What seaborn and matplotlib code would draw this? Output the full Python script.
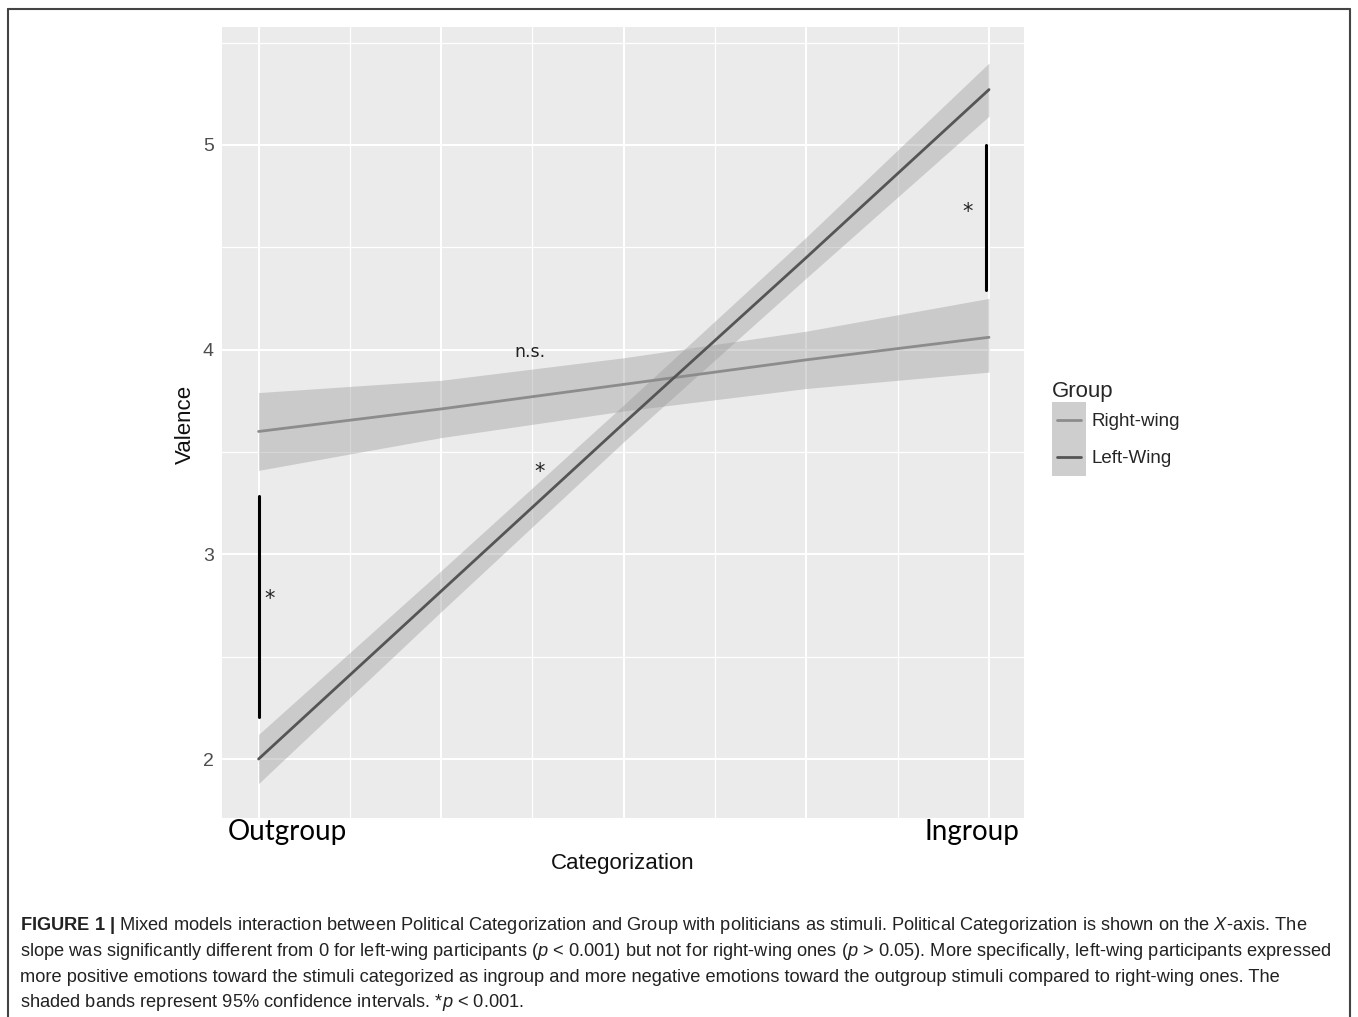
import numpy as np
import pandas as pd
from matplotlib import pyplot as plt
from matplotlib.lines import Line2D
from matplotlib.patches import Rectangle
import seaborn as sb

# fitted values and 95% bands
categorization = [0.0, 0.25, 0.5, 0.75, 1.0]
left_fit = [2.00, 2.82, 3.64, 4.45, 5.27]
left_lo = [1.88, 2.72, 3.55, 4.35, 5.14]
left_hi = [2.12, 2.92, 3.73, 4.55, 5.40]
right_fit = [3.60, 3.71, 3.83, 3.95, 4.06]
right_lo = [3.41, 3.57, 3.70, 3.81, 3.89]
right_hi = [3.79, 3.85, 3.96, 4.09, 4.25]
groups = ['Right-wing', 'Left-Wing']

y_ticks = [2, 3, 4, 5]
x_labels = ['Outgroup', 'Ingroup']

caption = [
    r'$\mathbf{FIGURE\ 1\ |}$ Mixed models interaction between Political Categorization and Group with politicians as stimuli. Political Categorization is shown on the $\mathit{X}$-axis. The',
    r'slope was significantly different from 0 for left-wing participants ($\mathit{p}$ < 0.001) but not for right-wing ones ($\mathit{p}$ > 0.05). More specifically, left-wing participants expressed',
    'more positive emotions toward the stimuli categorized as ingroup and more negative emotions toward the outgroup stimuli compared to right-wing ones. The',
    r'shaded bands represent 95% confidence intervals. *$\mathit{p}$ < 0.001.',
]

sb.set_theme(style='darkgrid')
plt.rcParams.update({'font.family': ['Liberation Sans', 'DejaVu Sans'],
                     'mathtext.fontset': 'custom',
                     'mathtext.rm': 'Liberation Sans',
                     'mathtext.it': 'Liberation Sans:italic',
                     'mathtext.bf': 'Liberation Sans:bold',
                     'axes.facecolor': '#EBEBEB'})

colors = {'Right-wing': '#8C8C8C', 'Left-Wing': '#555555'}


class KeyHandler:
    # ggplot-like key: grey band square with the line through its middle
    def legend_artist(self, legend, orig_handle, fontsize, handlebox):
        x0, y0 = -handlebox.xdescent, -handlebox.ydescent
        w, h = handlebox.width, handlebox.height
        tr = handlebox.get_transform()
        rect = Rectangle((x0, y0), w, h, facecolor='#CECECE', edgecolor='none', transform=tr)
        ln = Line2D([x0 + 0.15 * w, x0 + 0.85 * w], [y0 + h / 2] * 2,
                    color=orig_handle.get_color(), lw=2.0, transform=tr)
        handlebox.add_artist(rect)
        handlebox.add_artist(ln)
        return ln


df = pd.DataFrame({
    'Categorization': categorization * 2,
    'Valence': right_fit + left_fit,
    'Group': [groups[0]] * 5 + [groups[1]] * 5,
})

fig = plt.figure(figsize=(13.58, 10.17), dpi=100)
ax = fig.add_axes([0.1635, 0.1957, 0.5906, 0.7778])

ax.fill_between(categorization, right_lo, right_hi, color='#999999', alpha=0.4, lw=0)
ax.fill_between(categorization, left_lo, left_hi, color='#999999', alpha=0.4, lw=0)
sb.lineplot(data=df, x='Categorization', y='Valence', hue='Group', palette=colors,
            linewidth=2.0, ax=ax, legend=False)

# significance markers
ax.plot([0.0, 0.0], [2.205, 3.285], color='black', lw=2.2)
ax.plot([0.996, 0.996], [4.29, 5.0], color='black', lw=2.2)
ax.text(0.015, 2.78, '*', fontsize=15, family='DejaVu Sans', ha='center', va='center', color='#222222')
ax.text(0.970, 4.67, '*', fontsize=15, family='DejaVu Sans', ha='center', va='center', color='#222222')
ax.text(0.385, 3.40, '*', fontsize=15, family='DejaVu Sans', ha='center', va='center', color='#222222')
ax.text(0.371, 3.99, 'n.s.', fontsize=12.5, family='DejaVu Sans', ha='center', va='center', color='#222222')

ax.set_xlim(-0.05, 1.048)
ax.set_ylim(1.712, 5.576)
ax.set_yticks(y_ticks)
ax.set_yticks([2.5, 3.5, 4.5, 5.5], minor=True)
ax.set_xticks([0, 0.25, 0.5, 0.75, 1.0])
ax.set_xticks([0.125, 0.375, 0.625, 0.875], minor=True)
ax.set_xticklabels([])
ax.grid(which='major', color='white', lw=1.5)
ax.grid(which='minor', color='white', lw=0.9)
ax.tick_params(axis='both', which='major', length=4, width=1, color='#444444',
               labelsize=14, labelcolor='#4D4D4D', pad=2)
ax.tick_params(axis='both', which='minor', length=0)
for s in ax.spines.values():
    s.set_visible(False)

ax.text(0.04, -0.018, x_labels[0], transform=ax.get_xaxis_transform(), family='Lato',
        fontsize=20, ha='center', va='center', color='black')
ax.text(0.977, -0.018, x_labels[1], transform=ax.get_xaxis_transform(), family='Lato',
        fontsize=20, ha='center', va='center', color='black')

ax.set_xlabel('Categorization', fontsize=16, color='#111111')
ax.set_ylabel('Valence', fontsize=16, color='#111111')
ax.xaxis.set_label_coords(0.5, -0.044)
ax.yaxis.set_label_coords(-0.032, 0.497)

handles = [Line2D([], [], color=colors[g]) for g in groups]
leg = fig.legend(handles, groups, title='Group', loc='center left',
                 bbox_to_anchor=(0.7747, 0.579), frameon=False, fontsize=13.5,
                 title_fontsize=16, handlelength=1.8, handleheight=2.66,
                 labelspacing=0, handletextpad=0.3, borderpad=0, borderaxespad=0,
                 alignment='left', handler_map={Line2D: KeyHandler()})

# frame around the figure panel
fig.add_artist(Line2D([8 / 1358, 8 / 1358], [0, 1 - 9 / 1017], color='#444444', lw=1.5))
fig.add_artist(Line2D([1350 / 1358, 1350 / 1358], [0, 1 - 9 / 1017], color='#444444', lw=1.5))
fig.add_artist(Line2D([8 / 1358, 1350 / 1358], [1 - 9 / 1017, 1 - 9 / 1017], color='#444444', lw=1.5))

for i, line in enumerate(caption):
    y = 926 + i * 25.5
    fig.text(20 / 1358, 1 - y / 1017, line, fontsize=13.15, color='#222222', ha='left', va='center')

plt.savefig('out.png', dpi=100)
